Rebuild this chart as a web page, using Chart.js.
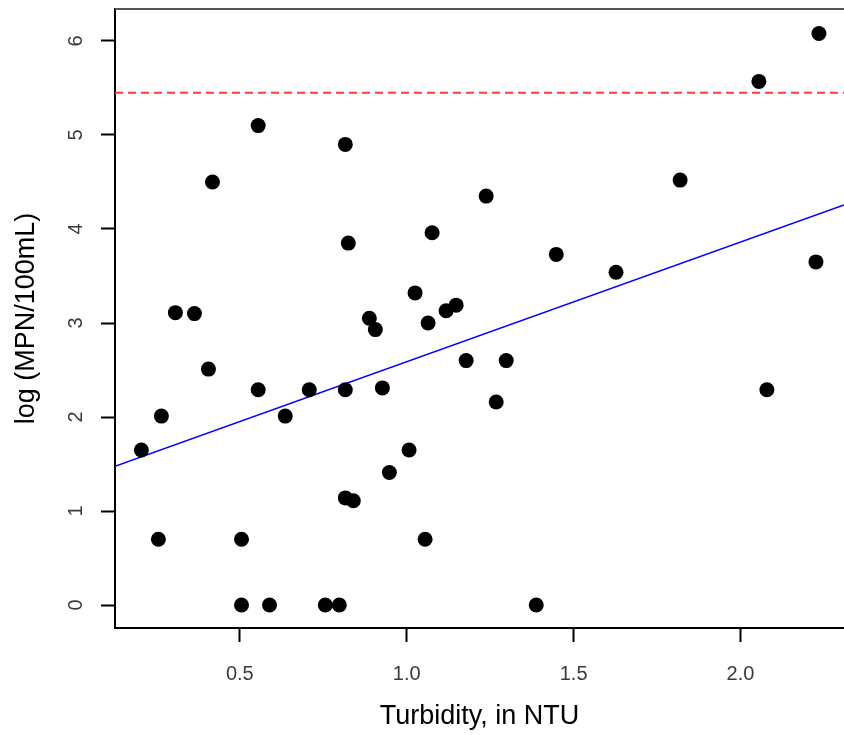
<!DOCTYPE html>
<html>
<head>
<meta charset="utf-8">
<script src="https://cdn.jsdelivr.net/npm/chart.js@4/dist/chart.umd.min.js"></script>
<style>
body{margin:0;background:#fff;}
#wrap{width:844px;height:735px;position:relative;}
</style>
</head>
<body>
<div id="wrap"><canvas id="scatterChart"></canvas></div>
<script>
// turbidity (NTU) and log(MPN/100mL) per sample
const turbidity = [0.205,0.265,0.256,0.307,0.364,0.406,0.418,0.505,0.505,0.555,0.555,0.589,0.636,0.708,0.756,0.798,0.816,0.816,0.816,0.825,0.840,0.888,0.906,0.927,0.948,1.007,1.025,1.055,1.064,1.076,1.118,1.148,1.178,1.238,1.268,1.298,1.388,1.448,1.627,1.819,2.055,2.079,2.226,2.235];
const logMpn = [1.65,2.01,0.70,3.11,3.10,2.51,4.50,0.70,0.00,5.10,2.29,0.00,2.01,2.29,0.00,0.00,4.90,2.29,1.14,3.85,1.11,3.05,2.93,2.31,1.41,1.65,3.32,0.70,3.00,3.96,3.13,3.19,2.60,4.35,2.16,2.60,0.00,3.73,3.54,4.52,5.57,2.29,3.65,6.08];

// fitted line end points and threshold level
const fitX = [0.126, 2.31];
const fitY = [1.475, 4.256];
const threshold = 5.45;

const xRange = [0.126, 2.31];
const yRange = [-0.244, 6.34];

const points = turbidity.map((t,i)=>({x:t, y:logMpn[i]}));
const fitLine = fitX.map((x,i)=>({x:x, y:fitY[i]}));
const limitLine = xRange.map(x=>({x:x, y:threshold}));

const fontFam = "'Liberation Sans', Arial, sans-serif";

/* top border of box + rotated y tick labels (R style) */
const rStyle = {
id:"rStyle",
afterDraw(chart){
const c = chart.ctx, a = chart.chartArea, ys = chart.scales.y;
c.save();
c.strokeStyle = "#555";
c.lineWidth = 2;
c.beginPath();
c.moveTo(a.left, a.top);
c.lineTo(a.right, a.top);
c.stroke();
c.fillStyle = "#3a3a3a";
c.font = "20px " + fontFam;
c.textAlign = "center";
c.textBaseline = "middle";
ys.ticks.forEach(t=>{
const py = ys.getPixelForValue(t.value);
c.save();
c.translate(76, py);
c.rotate(-Math.PI/2);
c.fillText(String(t.value), 0, 0);
c.restore();
});
c.restore();
}
};

new Chart(document.getElementById("scatterChart"),{
type:"scatter",
data:{
datasets:[
{
label:"samples",
data:points,
backgroundColor:"#000",
borderWidth:0,
pointRadius:7.5,
pointHoverRadius:7.5
},
{
label:"fit",
data:fitLine,
showLine:true,
borderColor:"#0000ff",
borderWidth:1.5,
pointRadius:0
},
{
label:"limit",
data:limitLine,
showLine:true,
borderColor:"#ff3b3b",
borderWidth:2,
borderDash:[8,5],
pointRadius:0
}
]
},
options:{
responsive:true,
maintainAspectRatio:false,
animation:false,
layout:{autoPadding:false,padding:{top:9,right:0,left:0,bottom:0}},
plugins:{
legend:{display:false},
tooltip:{enabled:false}
},
scales:{
x:{
type:"linear",
min:xRange[0],
max:xRange[1],
afterFit(s){ s.height = 107; },
border:{display:true,color:"#000",width:2},
grid:{display:true,drawOnChartArea:false,drawTicks:true,tickLength:14,tickWidth:2,tickColor:"#000"},
ticks:{
stepSize:0.5,
includeBounds:false,
padding:20,
color:"#3a3a3a",
font:{family:fontFam,size:20},
maxRotation:0,
callback:v=>v.toFixed(1)
},
title:{
display:true,
text:"Turbidity, in NTU",
color:"#000",
font:{family:fontFam,size:27},
padding:{top:0,bottom:2}
}
},
y:{
type:"linear",
min:yRange[0],
max:yRange[1],
afterFit(s){ s.width = 115; },
border:{display:true,color:"#000",width:2},
grid:{display:true,drawOnChartArea:false,drawTicks:true,tickLength:14,tickWidth:2,tickColor:"#000"},
ticks:{
stepSize:1,
includeBounds:false,
display:false
},
title:{
display:true,
text:"log (MPN/100mL)",
color:"#000",
font:{family:fontFam,size:27},
padding:{top:10,bottom:0}
}
}
}
},
plugins:[rStyle]
});
</script>
</body>
</html>
